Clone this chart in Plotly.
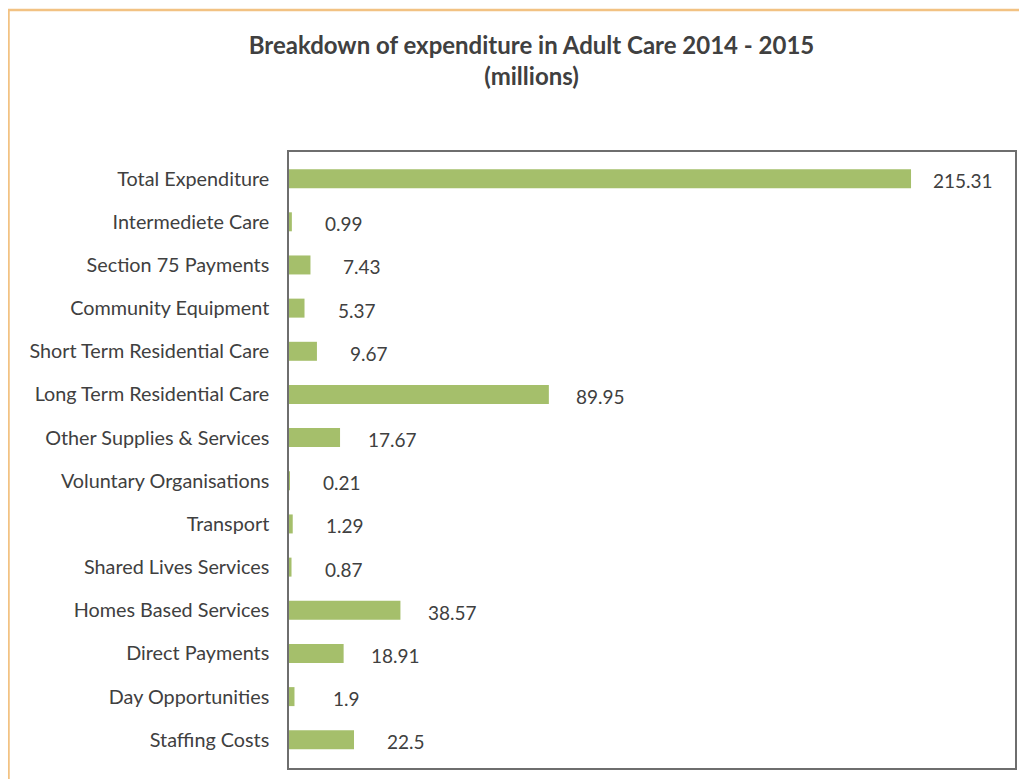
import plotly.graph_objects as go

categories = [
    "Total Expenditure", "Intermediete Care", "Section 75 Payments",
    "Community Equipment", "Short Term Residential Care",
    "Long Term Residential Care", "Other Supplies & Services",
    "Voluntary Organisations", "Transport", "Shared Lives Services",
    "Homes Based Services", "Direct Payments", "Day Opportunities",
    "Staffing Costs",
]
values = [215.31, 0.99, 7.43, 5.37, 9.67, 89.95, 17.67, 0.21, 1.29, 0.87,
          38.57, 18.91, 1.9, 22.5]
value_labels = ["215.31", "0.99", "7.43", "5.37", "9.67", "89.95", "17.67",
                "0.21", "1.29", "0.87", "38.57", "18.91", "1.9", "22.5"]

# page has an 8px body margin; figure occupies page (8,8)-(1027,779)
OFF = 8
W, H = 1027 - OFF, 779 - OFF
L, T = 289 - OFF, 152 - OFF
R = W - (1015 - OFF)
B = H - (768 - OFF)
pw = W - L - R
ph = H - T - B

FONT = "Lato"
TXT = "#404040"

fig = go.Figure()
fig.add_trace(go.Bar(
    x=values, y=categories, orientation="h",
    marker=dict(color="#A5BF6B", line=dict(width=0)),
    width=0.44, hoverinfo="skip",
))

for c, v, lab in zip(categories, values, value_labels):
    fig.add_annotation(x=v, y=c, text=lab, showarrow=False,
                       xanchor="center", xshift=52, yshift=-2,
                       font=dict(family=FONT, size=19, color=TXT))

n = len(categories)
fig.update_layout(
    width=W, height=H,
    margin=dict(l=L, r=R, t=T, b=B),
    paper_bgcolor="white", plot_bgcolor="white",
    showlegend=False,
    title=dict(
        text="<b>Breakdown of expenditure in Adult Care 2014 - 2015<br>(millions)</b>",
        x=(531.5 - OFF) / W, xanchor="center",
        y=1 - (54 - OFF) / H, yanchor="middle",
        font=dict(family=FONT, size=24, color=TXT),
    ),
    xaxis=dict(range=[0, 251.3], showticklabels=False, showgrid=False,
               zeroline=False, showline=True, linecolor="#6E6E6E",
               linewidth=1.5, mirror=True, ticks=""),
    yaxis=dict(range=[n - 1 + 0.654, -0.617], showgrid=False, zeroline=False,
               showline=True, linecolor="#6E6E6E", linewidth=1.5,
               mirror=True, ticks="", ticklabelstandoff=14,
               tickfont=dict(family=FONT, size=19.8, color=TXT)),
    shapes=[dict(type="rect", xref="paper", yref="paper",
                 x0=0.5 / pw - L / pw, x1=(W + 20 - L) / pw,
                 y0=-(B + 20) / ph, y1=1 + (T - 2) / ph,
                 line=dict(color="#F2C283", width=2.5), layer="below")],
)

fig.write_html("out.html")
